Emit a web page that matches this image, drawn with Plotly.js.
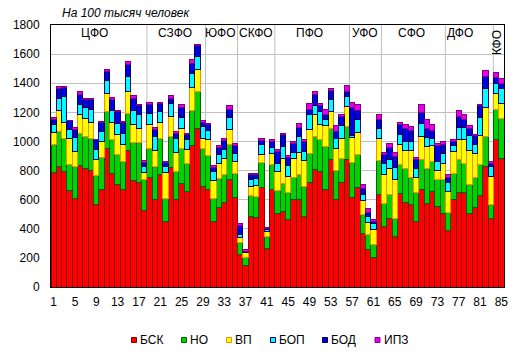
<!DOCTYPE html>
<html>
<head>
<meta charset="utf-8">
<script src="https://cdn.plot.ly/plotly-3.0.1.min.js"></script>
<style>html,body{margin:0;padding:0;background:#fff;}#chart{width:515px;height:357px;}</style>
</head>
<body>
<div id="chart"></div>
<script>
// Region numbers (categories)
const regions = [1,2,3,4,5,6,7,8,9,10,11,12,13,14,15,16,17,18,19,20,21,22,23,24,25,26,27,28,29,30,
  31,32,33,34,35,36,37,38,39,40,41,42,43,44,45,46,47,48,49,50,51,52,53,54,55,56,57,58,59,60,
  61,62,63,64,65,66,67,68,69,70,71,72,73,74,75,76,77,78,79,80,81,82,83,84,85];
const tickLabels = [1,5,9,13,17,21,25,29,33,37,41,45,49,53,57,61,65,69,73,77,81,85];

// Series values (per 100 thousand people)
const bsk = [787,831,796,662,605,833,815,801,570,673,954,782,703,668,938,735,719,528,
  753,600,771,450,824,600,714,657,975,1087,691,
  673,447,543,584,737,616,
  223,150,486,479,684,262,673,
  508,520,463,604,604,486,718,810,794,673,878,600,718,878,
  612,686,371,257,200,634,
  417,470,350,639,582,570,451,668,577,657,550,508,
  385,600,646,646,508,547,630,828,474,
  1011,886];
const no = [195,237,224,182,220,224,221,222,197,220,252,230,205,195,252,260,274,210,
  200,230,252,155,210,195,240,194,235,256,263,
  229,164,205,192,240,167,
  80,50,144,144,174,86,171,
  158,190,183,149,172,204,202,224,217,292,213,201,167,224,
  246,222,126,103,91,235,
  160,164,124,201,235,183,195,206,240,206,192,229,
  128,183,228,205,195,206,215,206,92,
  206,274];
const vp = [82,142,110,178,103,126,122,110,110,110,121,120,138,119,153,124,94,48,
  161,110,107,185,137,130,137,92,160,148,69,
  109,121,103,110,107,80,
  40,34,61,75,55,35,76,
  125,176,114,128,148,180,160,148,103,142,114,153,137,138,
  167,153,98,84,107,153,
  194,178,263,137,119,183,107,160,149,109,57,114,
  144,147,137,165,233,167,195,199,194,
  114,103];
const bop = [50,87,178,61,100,73,75,85,68,68,91,82,77,75,103,96,100,40,
  80,95,76,35,90,95,73,68,99,92,80,
  62,62,57,61,80,57,
  20,5,46,46,64,10,40,
  55,80,75,43,110,60,102,62,91,41,85,68,90,68,
  15,87,39,41,35,69,
  80,62,87,73,64,64,64,92,61,51,64,69,
  61,45,85,80,103,62,125,133,69,
  69,103];
const bod = [39,69,62,59,57,69,54,72,66,60,62,75,80,70,84,78,57,30,
  57,45,55,28,34,35,67,35,68,73,27,
  41,28,51,58,53,52,
  60,5,34,27,30,10,40,
  85,80,58,65,64,70,39,80,40,34,59,46,57,34,
  190,63,46,30,18,57,
  60,85,73,64,91,75,57,70,64,50,107,57,
  35,25,75,53,48,59,80,80,22,
  39,34];
const ipz = [14,13,5,5,14,15,5,5,5,5,11,10,7,10,21,20,7,15,
  19,16,9,12,18,13,25,11,23,11,14,
  12,13,13,18,28,12,
  10,13,12,12,11,7,11,
  12,11,11,11,23,10,41,16,13,35,16,39,13,39,
  40,40,22,23,16,39,
  16,25,30,16,28,28,16,55,58,41,14,23,
  17,11,39,34,20,9,11,39,12,
  34,34];

// Federal districts and the last region number of each
const districts = ['ЦФО','СЗФО','ЮФО','СКФО','ПФО','УФО','СФО','ДФО','КФО'];
const districtEnds = [18,29,35,42,56,62,74,83,85];

const seriesNames = ['БСК','НО','ВП','БОП','БОД','ИПЗ'];
const seriesData = [bsk,no,vp,bop,bod,ipz];

// ---- styling ----
const fills = ['#ff0000','#00d200','#ffff00','#00ffff','#0000e6','#e600e6'];
const edges = ['#8b0000','#006000','#ff8c00','#000080','#000040','#800080'];
const font = 'Liberation Sans, Arial, sans-serif';
const W = 515, H = 357, M = {l:51, r:11, t:25, b:70};
const pw = W - M.l - M.r, ph = H - M.t - M.b;
const pxX = px => (px - M.l) / pw;          // pixel -> paper x
const pxY = py => (H - M.b - py) / ph;      // pixel -> paper y
// district label anchor positions (pixel x) and anchors
const labelPx = [94, 175, 236.5, 237.5, 309, 365, 411, 460, 497];
const labelAnchor = ['center','center','right','left','center','center','center','center','center'];
const legendPx = [131.5, 181.5, 226.5, 270.5, 322.5, 375];
const legendPy = 340;

const traces = seriesNames.map((n,i)=>({
  type:'bar', name:n, x:regions, y:seriesData[i],
  marker:{color:fills[i], line:{color:edges[i], width:1}},
  showlegend:false
}));

const shapes = [];
const annotations = [];
districtEnds.forEach((end,k)=>{
  if (k < districtEnds.length-1) {
    shapes.push({type:'line', xref:'x', yref:'paper', x0:end+0.5, x1:end+0.5, y0:0, y1:1,
      line:{color:'#bfbfbf', width:1}, layer:'below'});
  }
  const isLast = k === districtEnds.length-1;
  annotations.push({
    xref:'paper', yref:'paper', x: pxX(labelPx[k]), y: isLast ? pxY(43) : pxY(33),
    text: districts[k], showarrow:false, textangle: isLast ? -90 : 0,
    font:{family:font, size:12, color:'#000'}, xanchor:labelAnchor[k], yanchor:'middle',
    borderpad:0
  });
});

// legend drawn as swatches + labels
seriesNames.forEach((n,i)=>{
  const x0 = legendPx[i];
  shapes.push({type:'rect', xref:'paper', yref:'paper',
    x0:pxX(x0), x1:pxX(x0+5), y0:pxY(legendPy+2.5), y1:pxY(legendPy-2.5),
    fillcolor:fills[i], line:{color:edges[i], width:1}});
  annotations.push({xref:'paper', yref:'paper', x:pxX(x0+6.5), y:pxY(legendPy),
    text:n, showarrow:false, xanchor:'left', yanchor:'middle',
    font:{family:font, size:12, color:'#000'}});
});

const layout = {
  width:W, height:H,
  margin:M,
  paper_bgcolor:'#fff', plot_bgcolor:'#fff',
  barmode:'stack', bargap:0,
  font:{family:font, size:12, color:'#000'},
  title:{text:'<i>На 100 тысяч человек</i>', x:62/W, xanchor:'left', xref:'container',
    y:1-13/H, yanchor:'middle', yref:'container', font:{family:font, size:12, color:'#000'}},
  xaxis:{range:[0.5,85.5], tickmode:'array', tickvals:tickLabels, ticktext:tickLabels.map(String),
    showgrid:false, zeroline:false, showline:true, linecolor:'#000', linewidth:1, mirror:true,
    ticks:'', tickfont:{family:font, size:12, color:'#000'}, ticklabelstandoff:4},
  yaxis:{range:[0,1800], dtick:200, tick0:0, showgrid:true, gridcolor:'#c0c0c0', gridwidth:1,
    zeroline:false, showline:true, linecolor:'#000', linewidth:1, mirror:true, ticks:'',
    tickfont:{family:font, size:12, color:'#000'}, ticklabelstandoff:8},
  shapes:shapes,
  annotations:annotations,
  showlegend:false
};

Plotly.newPlot('chart', traces, layout, {displayModeBar:false, staticPlot:true});
</script>
</body>
</html>
